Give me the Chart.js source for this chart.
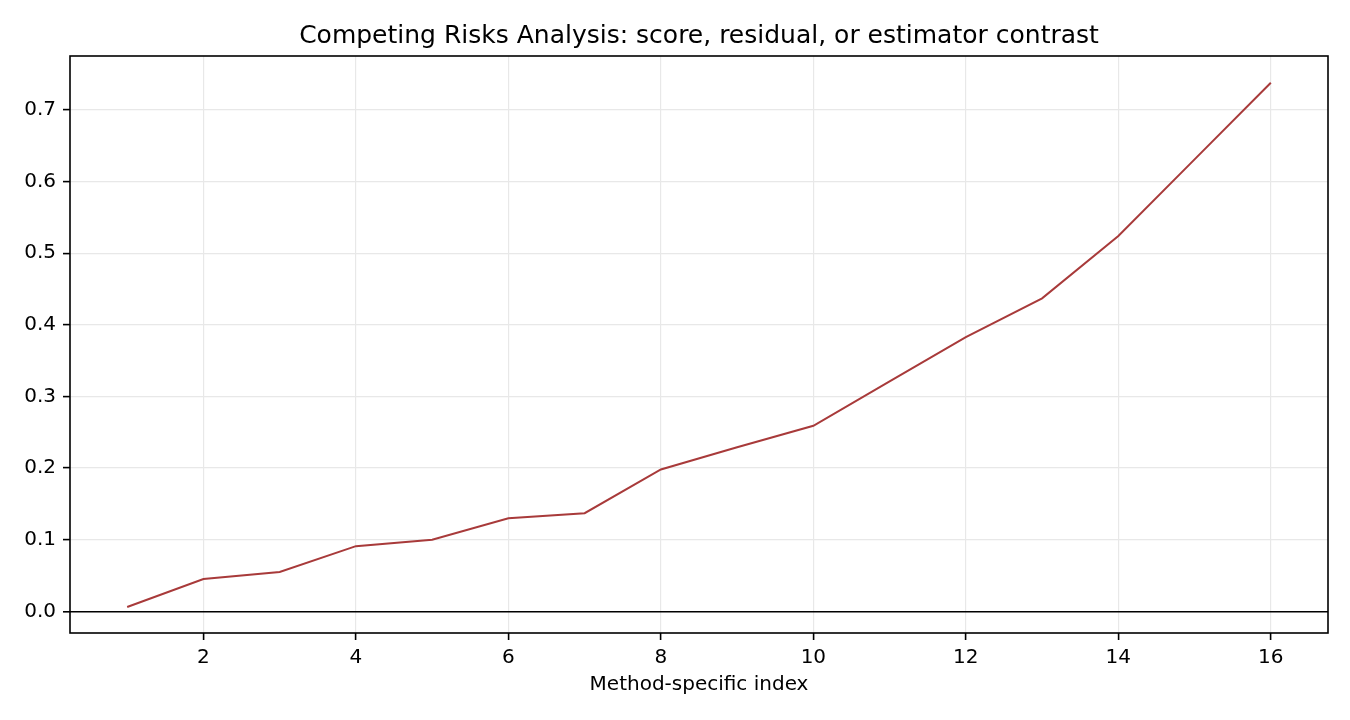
<!DOCTYPE html>
<html>
<head>
<meta charset="utf-8">
<script src="https://cdn.jsdelivr.net/npm/chart.js@4.4.1/dist/chart.umd.min.js"></script>
<style>
  html, body { margin: 0; padding: 0; background: #fff; }
  #wrap { width: 1350px; height: 720px; }
</style>
</head>
<body>
<div id="wrap"><canvas id="chart" width="1350" height="720"></canvas></div>
<script>
// values
const indices = [1, 2, 3, 4, 5, 6, 7, 8, 9, 10, 11, 12, 13, 14, 15, 16];
const contrast = [0.006, 0.045, 0.055, 0.091, 0.100, 0.130, 0.137, 0.198, 0.229, 0.259, 0.321, 0.383, 0.437, 0.524, 0.631, 0.738];
const xTicks = [2, 4, 6, 8, 10, 12, 14, 16];
const yTicks = [0, 0.1, 0.2, 0.3, 0.4, 0.5, 0.6, 0.7];

const font = "'DejaVu Sans', 'Liberation Sans', sans-serif";
Chart.defaults.font.family = font;
Chart.defaults.color = "#000";

// matplotlib-like frame around the plot area
const frame = {
  id: "frame",
  afterDraw(chart) {
    const { ctx, chartArea: a } = chart;
    ctx.save();
    ctx.strokeStyle = "#000";
    ctx.lineWidth = 1.6;
    ctx.strokeRect(a.left, a.top, a.right - a.left, a.bottom - a.top);
    ctx.restore();
  },
};

const points = indices.map((x, i) => ({ x: x, y: contrast[i] }));

new Chart(document.getElementById("chart"), {
  type: "line",
  data: {
    datasets: [
      {
        label: "contrast",
        data: points,
        borderColor: "#a83a3a",
        borderWidth: 2,
        pointRadius: 0,
        tension: 0,
        fill: false,
      },
    ],
  },
  options: {
    responsive: false,
    animation: false,
    devicePixelRatio: 1,
    layout: { padding: { left: 0, right: 22, top: 0, bottom: 0 } },
    plugins: {
      legend: { display: false },
      tooltip: { enabled: false },
      title: {
        display: true,
        fullSize: false,
        text: "Competing Risks Analysis: score, residual, or estimator contrast",
        font: { size: 25, weight: "normal" },
        color: "#000",
        padding: { top: 21, bottom: 5 },
      },
    },
    scales: {
      x: {
        type: "linear",
        min: 0.25,
        max: 16.75,
        afterBuildTicks: (s) => { s.ticks = xTicks.map((v) => ({ value: v })); },
        afterFit: (s) => { s.height = 87; },
        ticks: { font: { size: 20 }, padding: 6, maxRotation: 0, color: "#000" },
        grid: { color: "#e8e8e8", lineWidth: 1.2, tickLength: 7, tickColor: "#000", tickWidth: 1.6 },
        border: { display: false },
        title: {
          display: true,
          text: "Method-specific index",
          font: { size: 20 },
          padding: { top: 0, bottom: 23 },
        },
      },
      y: {
        type: "linear",
        min: -0.0303,
        max: 0.7754,
        afterBuildTicks: (s) => { s.ticks = yTicks.map((v) => ({ value: v })); },
        afterFit: (s) => { s.width = 70; },
        ticks: {
          font: { size: 20 },
          padding: 7,
          color: "#000",
          callback: (v) => v.toFixed(1),
        },
        grid: {
          color: (c) => (c.tick && c.tick.value === 0 ? "#000" : "#e8e8e8"),
          lineWidth: (c) => (c.tick && c.tick.value === 0 ? 1.6 : 1.2),
          tickLength: 7,
          tickColor: "#000",
          tickWidth: 1.6,
        },
        border: { display: false },
      },
    },
  },
  plugins: [frame],
});
</script>
</body>
</html>
